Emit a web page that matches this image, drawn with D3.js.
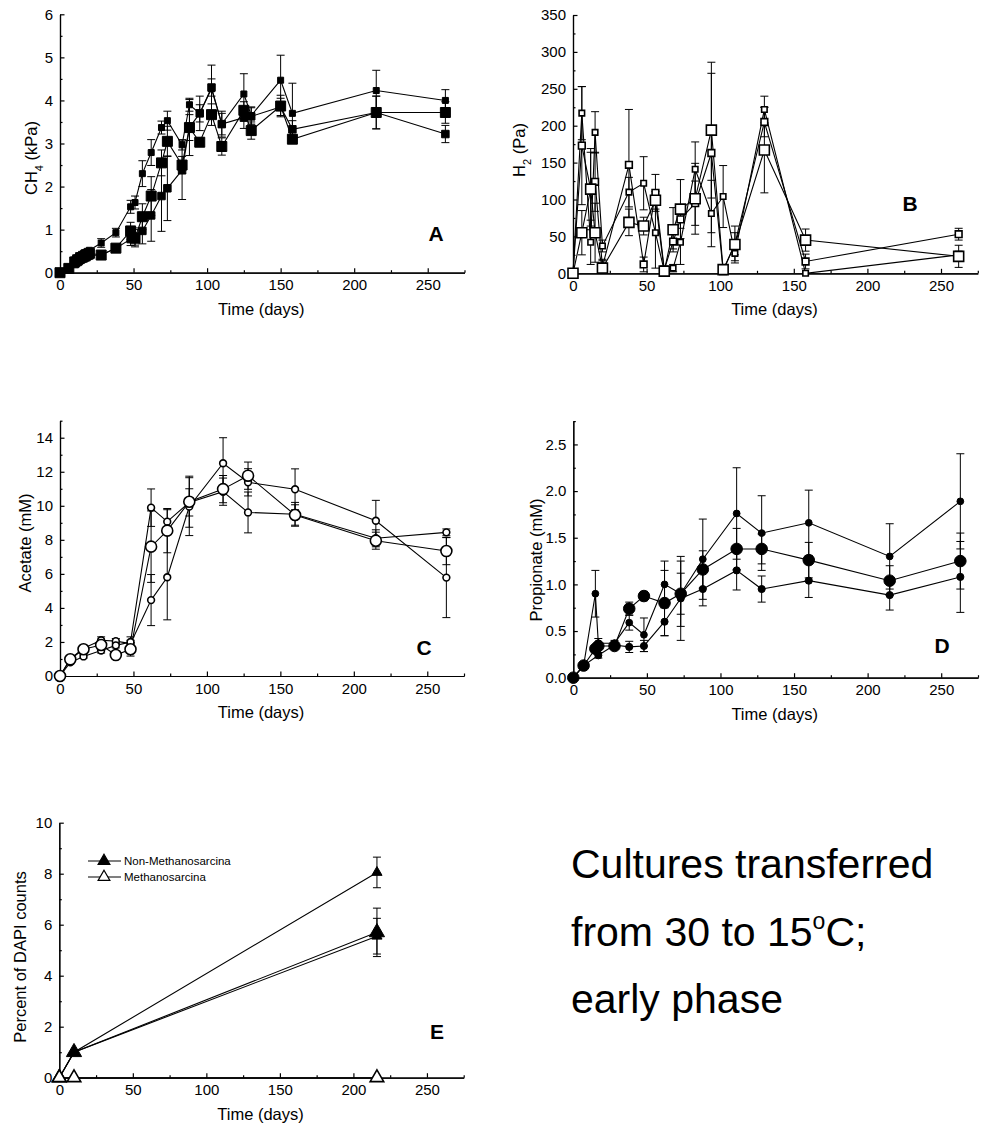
<!DOCTYPE html>
<html>
<head>
<meta charset="utf-8">
<title>Cultures transferred from 30 to 15C</title>
<script src="https://cdnjs.cloudflare.com/ajax/libs/d3/7.8.5/d3.min.js"></script>
<style>
  body { margin: 0; background: #fff; }
  svg text { font-family: "Liberation Sans", Arial, sans-serif; fill: #000; }
  .tick text { font-size: 15px; }
  .domain, .tick line { stroke: #000; stroke-width: 1.2; }
</style>
</head>
<body>
<script>
// ---- data ----
var dayTicks = [0, 50, 100, 150, 200, 250];

// A: CH4 (kPa)
var daysA = [0, 6, 10, 12, 14, 16, 18, 20, 28, 38, 48, 51, 56, 62, 69, 73, 83, 88, 95, 103, 110, 125, 130, 150, 158, 215, 262];
var ch4Small = [0, 0.12, 0.3, 0.35, 0.4, 0.45, 0.48, 0.52, 0.69, 0.93, 1.53, 1.63, 2.3, 2.79, 3.37, 3.53, 2.97, 3.9, 3.7, 4.27, 3.45, 4.15, 3.65, 4.47, 3.7, 4.23, 4.0];
var ch4Large = [0, 0.1, 0.25, 0.3, 0.35, 0.38, 0.42, 0.45, 0.41, 0.57, 0.97, 0.8, 1.3, 1.78, 2.55, 3.05, 2.5, 3.37, 3.03, 3.67, 2.93, 3.77, 3.3, 3.87, 3.1, 3.72, 3.72];
var ch4Mid = [0, 0.08, 0.2, 0.25, 0.3, 0.33, 0.36, 0.4, 0.41, 0.57, 0.78, 0.84, 0.97, 1.33, 1.78, 1.96, 2.38, 3.37, 3.7, 4.3, 3.45, 3.6, 3.63, 3.85, 3.33, 3.72, 3.22];
var ch4ErrSmall = [0, 0, 0, 0, 0, 0, 0, 0, 0.1, 0.1, 0.15, 0.15, 0.3, 0.3, 0.15, 0.22, 0.12, 0.15, 0.2, 0.55, 0.3, 0.47, 0.2, 0.58, 0.7, 0.47, 0.25];
var ch4ErrLarge = [0, 0, 0, 0, 0, 0, 0, 0, 0, 0, 0.2, 0.2, 0.3, 0.45, 0.3, 0.35, 0.2, 0.3, 0.1, 0.25, 0.2, 0.2, 0.2, 0.25, 0.1, 0.38, 0.25];
var ch4ErrMid = [0, 0, 0, 0, 0, 0, 0, 0, 0, 0, 0.15, 0.2, 0.3, 0.6, 0.82, 0.75, 0.68, 0.65, 0.4, 0.2, 0.25, 0.25, 0.2, 0.2, 0.2, 0.38, 0.2];

// B: H2 (Pa)
var daysB = [0, 6, 12, 15, 20, 38, 48, 56, 62, 68, 73, 83, 94, 102, 110, 130, 158, 262];
var h2Large = [0, 55, 114, 55, 7, 69, 64, 99, 3, 59, 87, 101, 194, 5, 39, 167, 45, 23];
var h2Mid = [0, 173, 114, 124, 9, 147, 12, 109, 5, 43, 73, 95, 163, 3, 40, 205, 16, 53];
var h2Small = [0, 217, 42, 191, 37, 110, 122, 55, 3, 7, 42, 141, 81, 104, 27, 222, 0, 25];
var h2ErrLarge = [0, 30, 55, 40, 10, 18, 12, 12, 0, 30, 40, 48, 92, 0, 25, 58, 15, 15];
var h2ErrMid = [0, 80, 50, 40, 10, 75, 10, 25, 0, 10, 12, 30, 108, 0, 15, 20, 10, 8];
var h2ErrSmall = [0, 36, 30, 28, 8, 20, 36, 48, 0, 5, 30, 37, 45, 42, 10, 18, 0, 5];

// C: acetate (mM)
var daysC = [0, 7, 16, 28, 38, 48, 62, 73, 88, 111, 128, 160, 215, 263];
var acSmallTop = [0, 1.0, 1.63, 2.1, 2.05, 1.9, 4.46, 5.8, 9.95, 12.5, 11.38, 10.97, 9.12, 5.78];
var acLarge = [0, 0.98, 1.57, 1.82, 1.23, 1.57, 7.6, 8.54, 10.24, 10.98, 11.77, 9.46, 7.95, 7.34];
var acSmall = [0, 0.8, 1.15, 1.5, 1.8, 2.0, 9.89, 9.07, 10.2, 10.83, 9.61, 9.5, 8.09, 8.44];
var acErrSmallTop = [0, 0.1, 0.15, 0.2, 0.15, 0.2, 1.5, 2.5, 1.7, 1.5, 0.8, 1.2, 1.2, 2.35];
var acErrLarge = [0, 0.1, 0.15, 0.2, 0.15, 0.4, 2.1, 1.3, 1.5, 0.8, 0.8, 0.6, 0.5, 0.8];
var acErrSmall = [0, 0.1, 0.1, 0.15, 0.15, 0.3, 1.1, 0.7, 0.8, 0.8, 1.2, 0.7, 0.5, 0.2];

// D: propionate (mM)
var daysD = [0, 7, 15, 17, 28, 38, 48, 62, 73, 88, 111, 128, 160, 215, 263];
var prSmallTop = [0, 0.13, 0.9, 0.37, 0.37, 0.59, 0.46, 1.0, 0.9, 1.27, 1.76, 1.55, 1.66, 1.3, 1.89];
var prLarge = [0, 0.13, 0.31, 0.34, 0.34, 0.74, 0.875, 0.8, 0.9, 1.16, 1.38, 1.38, 1.26, 1.04, 1.25];
var prSmall = [0, 0.13, null, 0.24, 0.35, 0.33, 0.34, 0.6, 0.85, 0.95, 1.15, 0.95, 1.04, 0.885, 1.08];
var prErrSmallTop = [0, 0, 0.25, 0.05, 0.03, 0.08, 0.18, 0.25, 0.35, 0.43, 0.49, 0.4, 0.35, 0.35, 0.51];
var prErrLarge = [0, 0, 0.03, 0.03, 0.03, 0.07, 0.05, 0.35, 0.22, 0.2, 0.22, 0.16, 0.19, 0.16, 0.3];
var prErrSmall = [0, 0, 0, 0.03, 0.03, 0.06, 0.06, 0.15, 0.45, 0.18, 0.21, 0.14, 0.18, 0.16, 0.38];

// E: percent of DAPI counts
var daysE = [0, 10, 216];
var nonMsA = [0, 1.0, 8.05];
var nonMsB = [0, 1.0, 5.7];
var nonMsC = [0, 1.0, 5.55];
var nonMsErrA = [0, 0, 0.6];
var nonMsErrB = [0, 0, 0.95];
var nonMsErrC = [0, 0, 0.7];
var msA = [0, 0, 0];
var legendE = ["Non-Methanosarcina", "Methanosarcina"];

var W = 983, H = 1128;
var svg = d3.select("body").append("svg").attr("width", W).attr("height", H);

function zip(days, vals, errs) {
  return days.map(function (d, i) {
    return { x: d, y: vals[i], e: errs ? errs[i] : 0 };
  }).filter(function (p) { return p.y != null; });
}

function panel(cfg) {
  var x = d3.scaleLinear().domain([0, 275]).range([cfg.left, cfg.right]);
  var y = d3.scaleLinear().domain([0, cfg.ymax]).range([cfg.bottom, cfg.top]);
  var g = svg.append("g");

  // minor ticks
  g.append("g").attr("transform", "translate(0," + cfg.bottom + ")")
    .call(d3.axisBottom(x).tickValues([25, 75, 125, 175, 225, 275]).tickSize(-2.5).tickSizeOuter(0).tickFormat(""));
  g.append("g").attr("transform", "translate(" + cfg.left + ",0)")
    .call(d3.axisLeft(y).tickValues(cfg.minor).tickSize(-2.5).tickSizeOuter(0).tickFormat(""));

  // major axes
  g.append("g").attr("transform", "translate(0," + cfg.bottom + ")")
    .call(d3.axisBottom(x).tickValues(dayTicks).tickSize(-4.5).tickSizeOuter(0).tickPadding(7));
  g.append("g").attr("transform", "translate(" + cfg.left + ",0)")
    .call(d3.axisLeft(y).tickValues(cfg.ticks).tickSize(-4.5).tickSizeOuter(0).tickPadding(7).tickFormat(cfg.fmt || d3.format("d")));

  g.append("text").attr("x", (cfg.left + cfg.right) / 2 - 1).attr("y", cfg.bottom + 42)
    .attr("text-anchor", "middle").style("font-size", "16.5px").text("Time (days)");

  var yl = g.append("text").attr("transform", "translate(" + (cfg.left - cfg.ylabOff) + "," + cfg.ylabY + ") rotate(-90)")
    .attr("text-anchor", "middle").style("font-size", "16.5px");
  cfg.ylab.forEach(function (part) {
    var t = yl.append("tspan").text(part[0]);
    if (part[1]) t.attr("baseline-shift", "sub").style("font-size", "11px");
  });

  g.append("text").attr("x", cfg.letter[0]).attr("y", cfg.letter[1]).attr("text-anchor", "middle")
    .style("font-size", "21px").style("font-weight", "bold").text(cfg.letterText);

  var line = d3.line().x(function (p) { return x(p.x); }).y(function (p) { return y(p.y); });

  cfg.series.forEach(function (s) {
    var pts = zip(s.days, s.vals, s.errs);
    g.append("path").datum(pts).attr("d", line)
      .attr("fill", "none").attr("stroke", "#000").attr("stroke-width", 1.1);
    var eb = g.append("g");
    pts.filter(function (p) { return p.e > 0; }).forEach(function (p) {
      var cx = x(p.x), y1 = y(p.y + p.e), y2 = y(Math.max(0, p.y - p.e));
      eb.append("line").attr("x1", cx).attr("x2", cx).attr("y1", y1).attr("y2", y2).attr("stroke", "#000").attr("stroke-width", 1);
      [y1, y2].forEach(function (yy) {
        eb.append("line").attr("x1", cx - 4).attr("x2", cx + 4).attr("y1", yy).attr("y2", yy).attr("stroke", "#000").attr("stroke-width", 1);
      });
    });
  });
  cfg.series.forEach(function (s) {
    var pts = zip(s.days, s.vals, s.errs);
    var sym = d3.symbol().type(s.shape).size(s.size);
    g.append("g").selectAll("path").data(pts).join("path")
      .attr("transform", function (p) { return "translate(" + x(p.x) + "," + y(p.y) + ")"; })
      .attr("d", sym)
      .attr("fill", s.fill).attr("stroke", "#000").attr("stroke-width", s.fill === "#fff" ? 1.6 : 1);
  });
  return { x: x, y: y, g: g };
}

panel({
  left: 60, right: 464.5, bottom: 272.7, top: 14.3, ymax: 6,
  ticks: [0, 1, 2, 3, 4, 5, 6], minor: [0.5, 1.5, 2.5, 3.5, 4.5, 5.5],
  ylab: [["CH"], ["4", true], [" (kPa)"]], ylabOff: 23, ylabY: 158,
  letter: [436, 241], letterText: "A",
  series: [
    { days: daysA, vals: ch4Small, errs: ch4ErrSmall, shape: d3.symbolSquare, size: 36, fill: "#000" },
    { days: daysA, vals: ch4Mid, errs: ch4ErrMid, shape: d3.symbolSquare, size: 56, fill: "#000" },
    { days: daysA, vals: ch4Large, errs: ch4ErrLarge, shape: d3.symbolSquare, size: 100, fill: "#000" }
  ]
});

panel({
  left: 573, right: 977.8, bottom: 273.3, top: 15, ymax: 350,
  ticks: [0, 50, 100, 150, 200, 250, 300, 350], minor: [25, 75, 125, 175, 225, 275, 325],
  ylab: [["H"], ["2", true], [" (Pa)"]], ylabOff: 48, ylabY: 150,
  letter: [910, 211], letterText: "B",
  series: [
    { days: daysB, vals: h2Small, errs: h2ErrSmall, shape: d3.symbolSquare, size: 30, fill: "#fff" },
    { days: daysB, vals: h2Mid, errs: h2ErrMid, shape: d3.symbolSquare, size: 45, fill: "#fff" },
    { days: daysB, vals: h2Large, errs: h2ErrLarge, shape: d3.symbolSquare, size: 100, fill: "#fff" }
  ]
});

panel({
  left: 60, right: 464, bottom: 676, top: 420.7, ymax: 15,
  ticks: [0, 2, 4, 6, 8, 10, 12, 14], minor: [1, 3, 5, 7, 9, 11, 13, 15],
  ylab: [["Acetate (mM)"]], ylabOff: 29, ylabY: 543,
  letter: [424, 655], letterText: "C",
  series: [
    { days: daysC, vals: acSmallTop, errs: acErrSmallTop, shape: d3.symbolCircle, size: 36, fill: "#fff" },
    { days: daysC, vals: acSmall, errs: acErrSmall, shape: d3.symbolCircle, size: 36, fill: "#fff" },
    { days: daysC, vals: acLarge, errs: acErrLarge, shape: d3.symbolCircle, size: 95, fill: "#fff" }
  ]
});

panel({
  left: 573.3, right: 978, bottom: 677.7, top: 421.1, ymax: 2.75,
  ticks: [0, 0.5, 1, 1.5, 2, 2.5], minor: [0.25, 0.75, 1.25, 1.75, 2.25, 2.75],
  fmt: d3.format(".1f"),
  ylab: [["Propionate (mM)"]], ylabOff: 31, ylabY: 560,
  letter: [942, 653], letterText: "D",
  series: [
    { days: daysD, vals: prSmallTop, errs: prErrSmallTop, shape: d3.symbolCircle, size: 36, fill: "#000" },
    { days: daysD, vals: prSmall, errs: prErrSmall, shape: d3.symbolCircle, size: 40, fill: "#000" },
    { days: daysD, vals: prLarge, errs: prErrLarge, shape: d3.symbolCircle, size: 105, fill: "#000" }
  ]
});

var pe = panel({
  left: 59.3, right: 463.7, bottom: 1077.7, top: 822.7, ymax: 10,
  ticks: [0, 2, 4, 6, 8, 10], minor: [1, 3, 5, 7, 9],
  ylab: [["Percent of DAPI counts"]], ylabOff: 33, ylabY: 957,
  letter: [437, 1039], letterText: "E",
  series: [
    { days: daysE, vals: nonMsA, errs: nonMsErrA, shape: d3.symbolTriangle, size: 45, fill: "#000" },
    { days: daysE, vals: nonMsC, errs: nonMsErrC, shape: d3.symbolTriangle, size: 45, fill: "#000" },
    { days: daysE, vals: nonMsB, errs: nonMsErrB, shape: d3.symbolTriangle, size: 100, fill: "#000" },
    { days: daysE, vals: msA, errs: null, shape: d3.symbolTriangle, size: 80, fill: "#fff" }
  ]
});

// legend for E
var leg = pe.g.append("g");
[["#000", 861], ["#fff", 877]].forEach(function (r, i) {
  leg.append("line").attr("x1", 88).attr("x2", 121).attr("y1", r[1]).attr("y2", r[1]).attr("stroke", "#000").attr("stroke-width", 1);
  leg.append("path").attr("transform", "translate(104," + r[1] + ")")
    .attr("d", d3.symbol().type(d3.symbolTriangle).size(60)).attr("fill", r[0]).attr("stroke", "#000").attr("stroke-width", 1.2);
  leg.append("text").attr("x", 124).attr("y", r[1] + 4).style("font-size", "11.5px").text(legendE[i]);
});

// caption
var cap = svg.append("g").style("font-size", "41px");
cap.append("text").attr("x", 571).attr("y", 878).text("Cultures transferred");
var l2 = cap.append("text").attr("x", 571).attr("y", 946);
l2.append("tspan").text("from 30 to 15");
l2.append("tspan").attr("dy", -17).style("font-size", "23px").text("o");
l2.append("tspan").attr("dy", 17).text("C;");
cap.append("text").attr("x", 571).attr("y", 1013).text("early phase");
</script>
</body>
</html>
